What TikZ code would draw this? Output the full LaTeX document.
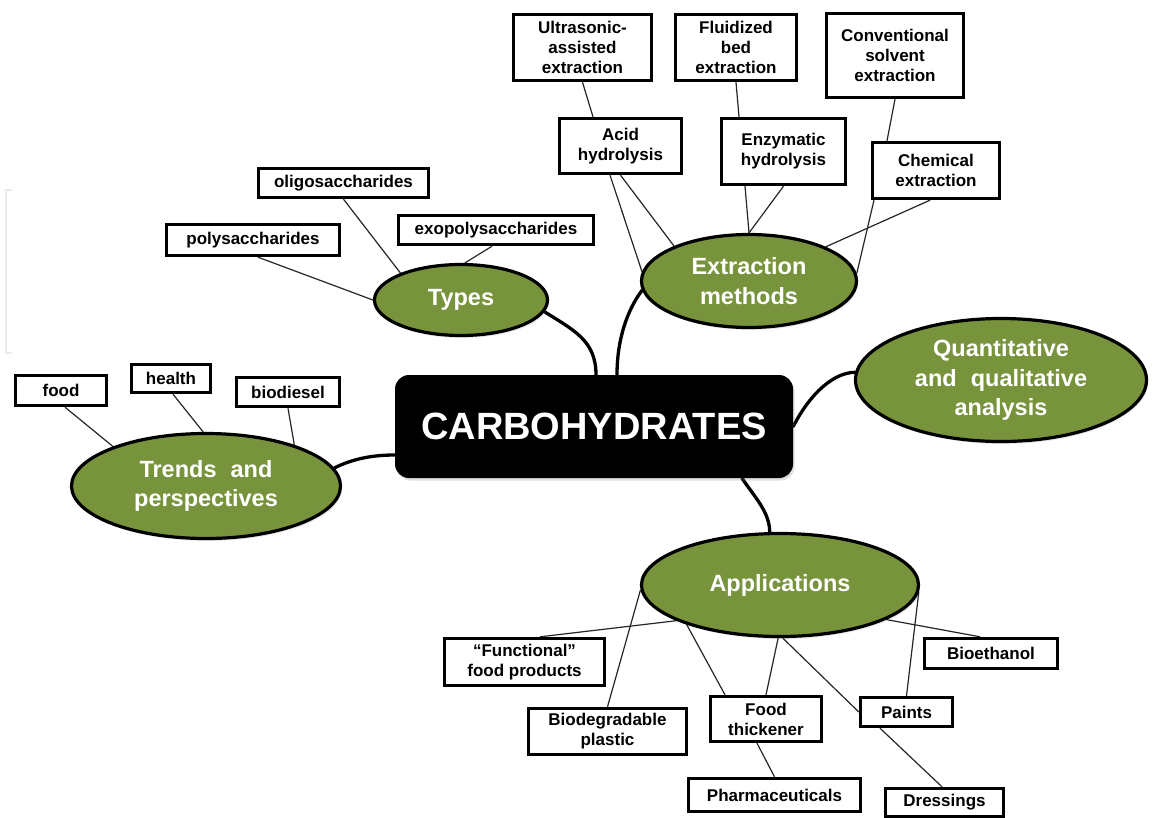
\documentclass[tikz,border=0pt]{standalone}
\usepackage{fontspec}
\setmainfont{Liberation Sans}
\usetikzlibrary{shapes.geometric,backgrounds,shadows,calc}
\definecolor{leaf}{HTML}{77933C}
\begin{document}
\begin{tikzpicture}[x=1pt,y=-1pt,
  box/.style={draw=black, line width=3.4pt, fill=white, inner sep=0pt, align=center,
    font=\fontsize{17}{20}\selectfont\bfseries, text=black},
  bubble/.style={ellipse, draw=black, line width=3.2pt, fill=leaf, inner sep=0pt, align=center,
    font=\fontsize{23.5}{29.5}\selectfont\bfseries, text=white,
    drop shadow={shadow xshift=1.5pt, shadow yshift=-2.5pt, opacity=0.18}},
  hub/.style={rectangle, rounded corners=14pt, fill=black, inner sep=0pt, align=center,
    font=\fontsize{38}{44}\selectfont\bfseries, text=white,
    drop shadow={shadow xshift=1.5pt, shadow yshift=-2.5pt, opacity=0.25}},
  twig/.style={line width=1.2pt, draw=black!85},
  limb/.style={line width=3.3pt, draw=black, line cap=round}]

\useasboundingbox (0,0) rectangle (1154,817);
\begin{pgfonlayer}{background}
  \fill[white] (0,0) rectangle (1154,817);
\end{pgfonlayer}

% faint bracket at the left edge
\draw[black!8, line width=2pt] (12,190) -- (6,190) -- (6,353) -- (12,353);

% central node
\node[hub, minimum width=398pt, minimum height=103pt] (carb) at (594,426.5) {CARBOHYDRATES};

% main bubbles
\node[bubble, minimum width=173pt, minimum height=71pt] (types) at (461,300) {Types};
\node[bubble, minimum width=215pt, minimum height=93pt] (extr) at (749,281) {Extraction\\methods};
\node[bubble, minimum width=291pt, minimum height=123pt] (quant) at (1001,380) {Quantitative\\and\hspace{0.6em}qualitative\\analysis};
\node[bubble, minimum width=269pt, minimum height=105pt] (trends) at (206,486) {Trends\hspace{0.6em}and\\perspectives};
\node[bubble, minimum width=277pt, minimum height=103pt] (apps) at (780,585) {Applications};

% extraction boxes
\node[box, minimum width=138pt, minimum height=66pt] (ultra) at (582.5,47.5) {Ultrasonic-\\assisted\\extraction};
\node[box, minimum width=121pt, minimum height=66pt] (fluid) at (736,47.5) {Fluidized\\bed\\extraction};
\node[box, minimum width=137pt, minimum height=84pt] (conv) at (895,55.5) {Conventional\\solvent\\extraction};
\node[box, minimum width=122pt, minimum height=55pt] (acid) at (620.5,146) {Acid\\hydrolysis};
\node[box, minimum width=124pt, minimum height=66pt] (enzym) at (783.5,151.5) {Enzymatic\\hydrolysis};
\node[box, minimum width=127pt, minimum height=56pt] (chem) at (936,170.5) {Chemical\\extraction};

% types boxes
\node[box, minimum width=170pt, minimum height=29pt] (oligo) at (343.5,183) {oligosaccharides};
\node[box, minimum width=173pt, minimum height=31pt] (poly) at (253,240) {polysaccharides};
\node[box, minimum width=195pt, minimum height=29pt] (exo) at (496,230) {exopolysaccharides};

% trends boxes
\node[box, minimum width=91pt, minimum height=30pt] (food) at (61,390.5) {food};
\node[box, minimum width=79pt, minimum height=28pt] (health) at (171,378.5) {health};
\node[box, minimum width=103pt, minimum height=29pt] (biodiesel) at (288,392) {biodiesel};

% application boxes
\node[box, minimum width=160pt, minimum height=47pt] (functional) at (524.5,662) {“Functional”\\food products};
\node[box, minimum width=158pt, minimum height=46pt] (biodeg) at (607.5,731.5) {Biodegradable\\plastic};
\node[box, minimum width=111pt, minimum height=45pt] (thickener) at (766,719) {Food\\thickener};
\node[box, minimum width=172pt, minimum height=33pt] (pharma) at (774.5,795) {Pharmaceuticals};
\node[box, minimum width=92pt, minimum height=29pt] (paints) at (906.5,712) {Paints};
\node[box, minimum width=133pt, minimum height=30pt] (bioeth) at (991,653.5) {Bioethanol};
\node[box, minimum width=118pt, minimum height=28pt] (dress) at (944.5,802.5) {Dressings};

\begin{pgfonlayer}{background}
  % extraction
  \draw[twig] (ultra.south) -- ([xshift=-27.5pt]acid.north);
  \draw[twig] (fluid.south) -- ([xshift=-44.5pt]enzym.north);
  \draw[twig] (conv.south) -- ([xshift=-49pt]chem.north);
  \draw[twig] ([xshift=-10.5pt]acid.south) -- (extr.175);
  \draw[twig] (acid.south) -- (extr.155);
  \draw[twig] ([xshift=-38.5pt]enzym.south) -- (extr.90);
  \draw[twig] (enzym.south) -- (extr.90);
  \draw[twig] ([xshift=-62pt]chem.south) -- (extr.4);
  \draw[twig] ([xshift=-6pt]chem.south) -- (extr.24);
  % types
  \draw[twig] ([xshift=5pt]poly.south) -- (types.180);
  \draw[twig] (oligo.south) -- (types.156);
  \draw[twig] ([xshift=-4pt]exo.south) -- (types.84);
  % trends
  \draw[twig] ([xshift=4pt]food.south) -- (trends.157);
  \draw[twig] ([xshift=2pt]health.south) -- (trends.93);
  \draw[twig] (biodiesel.south) -- (trends.25);
  % applications
  \draw[twig] ([xshift=15.5pt]functional.north) -- (apps.199);
  \draw[twig] (biodeg.north) -- (apps.182);
  \draw[twig] ([xshift=-41pt]thickener.north) -- (apps.203);
  \draw[twig] (thickener.north) -- (apps.268);
  \draw[twig] ([xshift=-9pt]thickener.south) -- (pharma.north);
  \draw[twig] (paints.west) -- (apps.273);
  \draw[twig] (paints.north) -- (apps.357);
  \draw[twig] ([xshift=-26.5pt]paints.south) -- ([xshift=-2.5pt]dress.north);
  \draw[twig] ([xshift=-11pt]bioeth.north) -- (apps.342);
  % main limbs
  \draw[limb] (types.-8) .. controls +(28,18) and +(0,-35) .. ([xshift=2pt]carb.north);
  \draw[limb] (extr.185) .. controls +(-15,20) and +(0,-35) .. ([xshift=23pt]carb.north);
  \draw[limb] (carb.east) .. controls +(18,-35) and +(-20,0) .. (quant.177);
  \draw[limb] ([xshift=148pt]carb.south) .. controls +(12,18) and +(0,-20) .. (apps.101);
  \draw[limb] (trends.8) .. controls +(20,-10) and +(-20,0) .. ([yshift=-28.5pt]carb.west);
\end{pgfonlayer}
\end{tikzpicture}
\end{document}
